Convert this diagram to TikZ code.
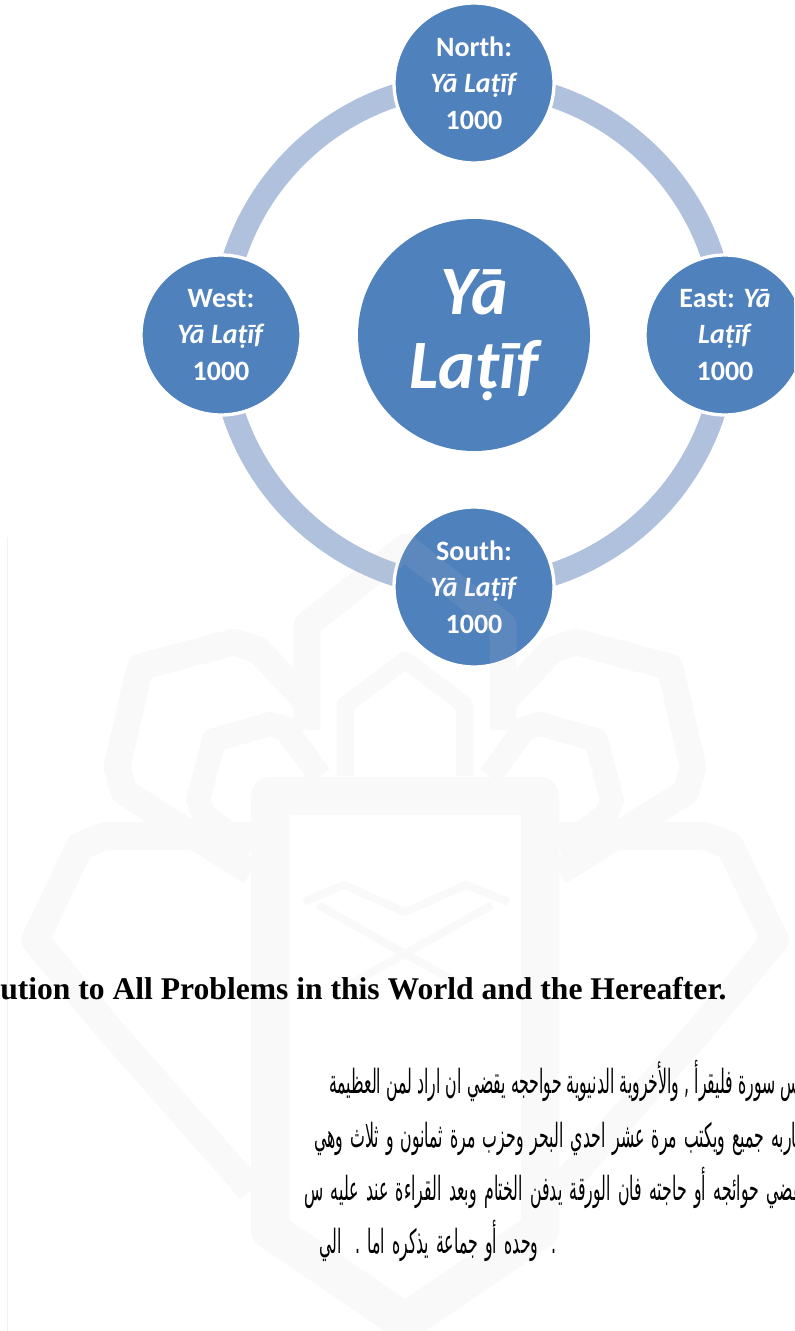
\documentclass[tikz,border=0pt]{standalone}
\usepackage{fontspec}
\usetikzlibrary{backgrounds}
\setmainfont{Carlito}
\newfontfamily\headfont{Liberation Serif}
\newfontfamily\arabicfont[Script=Arabic]{DejaVu Sans}
\TeXXeTstate=1

\definecolor{circblue}{HTML}{4F81BD}
\definecolor{ringblue}{HTML}{B0C1DD}
\definecolor{wmgray}{RGB}{198,198,198}

\tikzset{
  dirnode/.style={circle, fill=circblue, draw=white, line width=2.5pt,
    minimum size=120pt, inner sep=0pt, text=white, align=center,
    font=\fontsize{21}{27.4}\selectfont\bfseries},
  hubnode/.style={circle, fill=circblue, minimum size=174pt, inner sep=0pt,
    text=white, align=center, font=\fontsize{52}{56}\selectfont\bfseries\itshape},
  ringarc/.style={draw=ringblue, line width=17.25pt},
  wmband/.style={draw=wmgray, line width=#1, line join=round},
  arabline/.style={anchor=base west, inner sep=0pt,
    font=\arabicfont\fontsize{20}{24}\selectfont}
}

\begin{document}
\begin{tikzpicture}[x=0.75pt,y=0.75pt]
\useasboundingbox (0,0) rectangle (794,-1331);
\clip (0,0) rectangle (794,-1331);

% faint margin line
\draw[gray!10, line width=0.75pt] (7.5,-537) -- (7.5,-1331);

% centre and the four quarters
\node[hubnode] (hub) at (474,-335) {Yā\\Laṭīf};
\node[dirnode] (north) at (474,-83) {North:\\\textit{Yā Laṭīf}\\1000};
\node[dirnode] (west) at (221,-335) {West:\\\textit{Yā Laṭīf}\\1000};
\node[dirnode] (south) at (474,-587) {South:\\\textit{Yā Laṭīf}\\1000};
\node[dirnode] (east) at (725,-335) {East: \textit{Yā}\\\textit{Laṭīf}\\1000};

% ring between the quarters, behind the circles
\begin{scope}[on background layer]
\foreach \from/\sa in {north/90,west/180,south/270,east/0}
  \draw[ringarc] (\from.center) arc[start angle=\sa, delta angle=90, radius=252];
\end{scope}

% faint logo in the page background
\begin{scope}[transparency group, opacity=0.11]
  \draw[wmband=28.5pt] (270,-796) -- (540,-796) -- (540,-1230)
    -- (405,-1322) -- (270,-1230) -- cycle;
  \draw[wmband=13pt] (345.5,-776) -- (345.5,-705) -- (405,-660)
    -- (464.5,-705) -- (464.5,-776);
  \draw[wmband=20pt] (307,-730) -- (307,-625) -- (405,-547)
    -- (503,-625) -- (503,-730);
  \draw[wmband=6pt] (304,-902) -- (344,-885) -- (405,-912) -- (466,-885) -- (509,-902);
  \draw[wmband=6pt] (318,-905) -- (470,-990) (492,-905) -- (340,-990);
  \foreach \s/\o in {1/0,-1/810}{
  \begin{scope}[shift={(\o,0)}, xscale=\s]
    \draw[wmband=20pt] (310,-705) -- (258,-650) -- (234,-642) -- (140,-667)
      -- (117,-767) -- (124,-792) -- (251,-872);
    \draw[wmband=18pt] (320,-776) -- (285,-728) -- (270,-724) -- (214,-740)
      -- (198,-800) -- (204,-815) -- (251,-850);
    \draw[wmband=21pt] (251,-836) -- (105,-836) -- (80,-846) -- (35,-940)
      -- (110,-1030) -- (251,-1190);
  \end{scope}}
\end{scope}

% text below the diagram
\node[anchor=base west, inner sep=0pt,
  font=\headfont\bfseries\fontsize{23.7}{28}\selectfont] (title) at (0,-999)
  {ution to All Problems in this World and the Hereafter.};

\node[arabline] (ar1) at (329,-1093)
  {\scalebox{0.59}[1.25]{\makebox[605pt][s]{\beginR يس سورة فليقرأ , والأخروية الدنيوية حواحجه يقضي ان اراد لمن العظيمة\endR}}};
\node[arabline] (ar2) at (314,-1147)
  {\scalebox{0.59}[1.25]{\makebox[624pt][s]{\beginR ماربه جميع ويكتب مرة عشر احدي البحر وحزب مرة ثمانون و ثلاث وهي\endR}}};
\node[arabline] (ar3) at (304,-1200)
  {\scalebox{0.59}[1.25]{\makebox[637pt][s]{\beginR يقضي حوائجه أو حاجته فان الورقة يدفن الختام وبعد القراءة عند عليه س\endR}}};
\node[arabline] (ar4) at (319,-1253)
  {\scalebox{0.59}[1.25]{\makebox[302pt][s]{\beginR . وحده أو جماعة يذكره اما . الي\endR}}};

\end{tikzpicture}
\end{document}
